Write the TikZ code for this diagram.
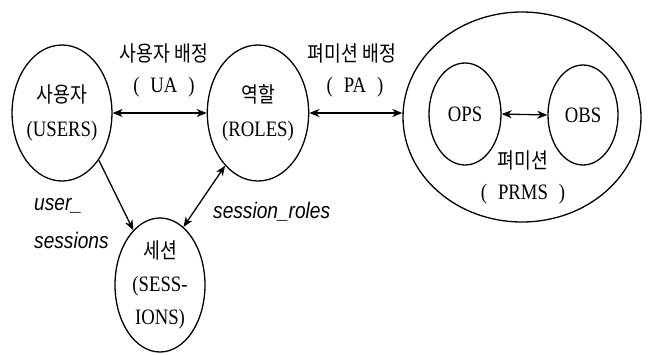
\documentclass[tikz,border=0pt]{standalone}
\usepackage{fontspec}
\setmainfont{Liberation Serif}[FakeStretch=0.85]
\newfontfamily\kofont{Noto Sans CJK KR}[FakeStretch=0.85]
\newfontfamily\itfont{Liberation Sans}[FakeStretch=0.85]
\usetikzlibrary{shapes.geometric,arrows.meta}
\begin{document}
\begin{tikzpicture}[x=1pt,y=-1pt,
  oval/.style={draw,ellipse,line width=1.3pt,inner sep=0pt,align=center,
    font=\fontsize{22}{34}\selectfont},
  ko/.style={font=\kofont\fontsize{21.5}{34}\selectfont},
  lbl/.style={inner sep=0pt,align=center,font=\fontsize{22}{34}\selectfont},
  itl/.style={inner sep=0pt,align=left,font=\fontsize{22.5}{34}\itfont\itshape},
  tip/.style={},
  conn/.style={line width=1.3pt,{Stealth[length=10pt,width=8pt,inset=3pt]}-{Stealth[length=10pt,width=8pt,inset=3pt]}},
  conr/.style={line width=1.3pt,-{Stealth[length=10pt,width=8pt,inset=3pt]}}]
\useasboundingbox (0,0) rectangle (648,354);
\fill[white] (0,0) rectangle (648,354);
\node[oval,minimum width=92pt,minimum height=136pt] (users) at (62,113)
  {{\kofont\fontsize{21.5}{34}\selectfont 사용자}\\(USERS)};
\node[oval,minimum width=90pt,minimum height=136pt] (roles) at (258,113)
  {{\kofont\fontsize{21.5}{34}\selectfont 역할}\\(ROLES)};
\node[oval,minimum width=90pt,minimum height=134pt] (sessions) at (160,285)
  {{\kofont\fontsize{21.5}{34}\selectfont 세션}\\[-1pt](SESS-\\[-1pt]IONS)};
\node[oval,minimum width=238pt,minimum height=210pt] (prms) at (522,117) {};
\node[oval,minimum width=72pt,minimum height=102pt] (ops) at (465,114) {OPS};
\node[oval,minimum width=70pt,minimum height=100pt] (obs) at (583,115) {OBS};
\node[lbl,ko] (ualbl) at (164,53) {사용자 배정};
\node[lbl] (ua) at (164,87) {(\enspace UA\enspace)};
\node[lbl,ko] (palbl) at (352,53) {펴미션 배정};
\node[lbl] (pa) at (355,87) {(\enspace PA\enspace)};
\node[lbl,ko] (prmslbl) at (523,160) {펴미션};
\node[lbl] (prmsabbr) at (523,194) {(\enspace PRMS\enspace)};
\node[itl,anchor=west] (us1) at (34,206) {user\_};
\node[itl,anchor=west] (us2) at (34,240) {sessions};
\node[itl,anchor=west] (sr) at (213,212) {session\_roles};
\draw[conn] (users.east) -- (roles.west);
\draw[conn] (roles.east) -- (roles.east -| prms.west);
\draw[conn] (ops.east) -- (obs.west);
\draw[conr] (users.-52) -- (sessions.116);
\draw[conn] (roles.-122) -- (sessions.68);
\end{tikzpicture}
\end{document}
